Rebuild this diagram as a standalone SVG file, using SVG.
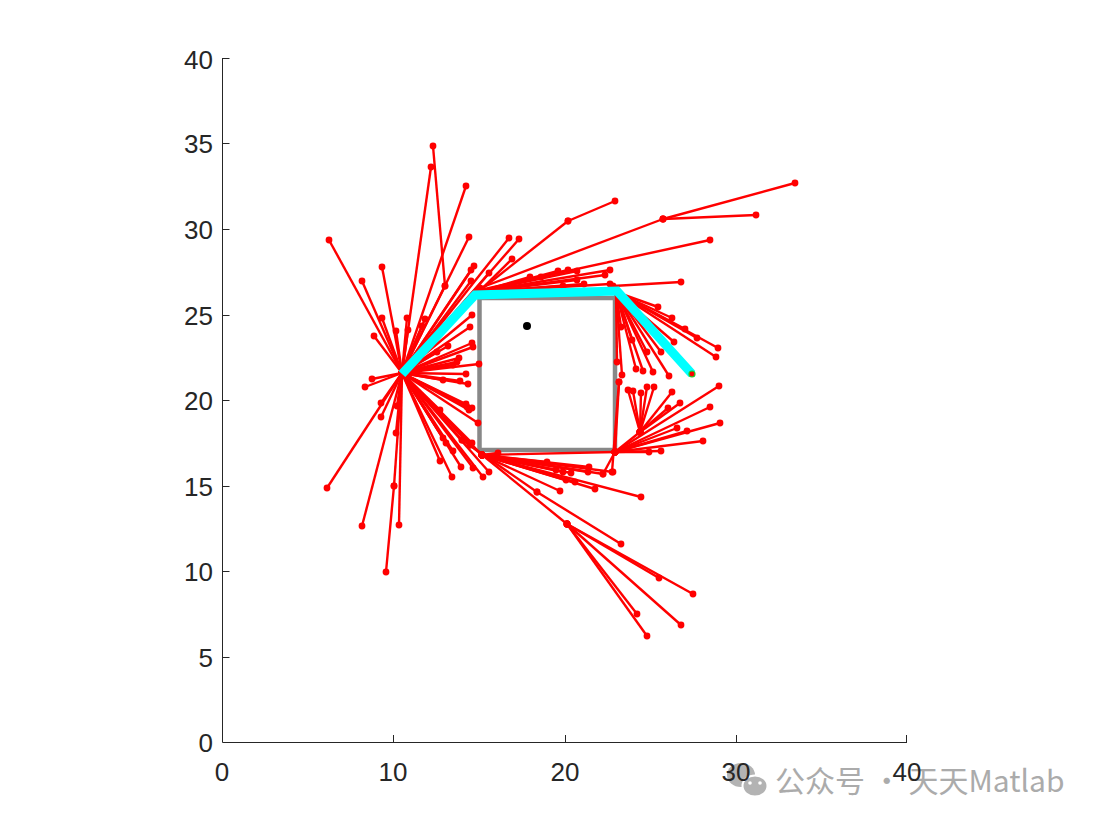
<svg xmlns="http://www.w3.org/2000/svg" width="1099" height="825" viewBox="0 0 1099 825">
<style>
.ax{stroke:#262626;stroke-width:1;fill:none}
.tl{font-family:"Liberation Sans",Arial,sans-serif;font-size:26px;fill:#262626}
.e{stroke:#ff0000;stroke-width:2.4;fill:none;marker-start:url(#dot);marker-end:url(#dot)}
.wm{font-family:"Noto Sans CJK SC","Noto Sans",sans-serif;font-size:30px;fill:#ababab}
</style>
<defs>
<marker id="dot" markerUnits="userSpaceOnUse" viewBox="0 0 8 8" refX="4" refY="4" markerWidth="8" markerHeight="8"><circle cx="4" cy="4" r="3.4" fill="#ff0000"/></marker>
</defs>
<rect width="1099" height="825" fill="#ffffff"/>

<g id="watermark">
<ellipse cx="741" cy="775" rx="14" ry="12" fill="#b3b3b3"/>
<ellipse cx="755" cy="786" rx="12.5" ry="10.5" fill="#b3b3b3" stroke="#ffffff" stroke-width="2"/>
<circle cx="750" cy="783" r="1.8" fill="#ffffff"/>
<circle cx="760" cy="783" r="1.8" fill="#ffffff"/>
<text class="wm" x="775" y="792">公众号 · 天天Matlab</text>
</g>

<g id="axes">
<path class="ax" d="M222.5 58V742.5H907"/>
<path class="ax" d="M222.5 58.5h7M222.5 143.5h7M222.5 229.5h7M222.5 315.5h7M222.5 400.5h7M222.5 486.5h7M222.5 571.5h7M222.5 657.5h7"/>
<path class="ax" d="M393.5 742v-7M565.5 742v-7M736.5 742v-7M906.5 742v-7"/>
<g text-anchor="end">
<text class="tl" x="213" y="69">40</text>
<text class="tl" x="213" y="153">35</text>
<text class="tl" x="213" y="239">30</text>
<text class="tl" x="213" y="325">25</text>
<text class="tl" x="213" y="410">20</text>
<text class="tl" x="213" y="496">15</text>
<text class="tl" x="213" y="581">10</text>
<text class="tl" x="213" y="667">5</text>
<text class="tl" x="213" y="752">0</text>
</g>
<g text-anchor="middle">
<text class="tl" x="222" y="781">0</text>
<text class="tl" x="393" y="781">10</text>
<text class="tl" x="565" y="781">20</text>
<text class="tl" x="736" y="781">30</text>
<text class="tl" x="907" y="781">40</text>
</g>
</g>

<g id="obstacle">
<rect x="479.5" y="298" width="135.5" height="152" fill="#ffffff" stroke="#888888" stroke-width="4.5"/>
</g>

<g id="tree">
<line class="e" x1="402" y1="373" x2="329" y2="240"/>
<line class="e" x1="402" y1="373" x2="362" y2="281"/>
<line class="e" x1="402" y1="373" x2="382" y2="267"/>
<line class="e" x1="402" y1="373" x2="374" y2="336"/>
<line class="e" x1="402" y1="373" x2="382" y2="318"/>
<line class="e" x1="402" y1="373" x2="396" y2="331"/>
<line class="e" x1="402" y1="373" x2="407" y2="318"/>
<line class="e" x1="402" y1="373" x2="408" y2="330"/>
<line class="e" x1="402" y1="373" x2="431" y2="167"/>
<line class="e" x1="402" y1="373" x2="445" y2="286"/>
<line class="e" x1="445" y1="286" x2="433" y2="146"/>
<line class="e" x1="402" y1="373" x2="466" y2="186"/>
<line class="e" x1="402" y1="373" x2="469" y2="237"/>
<line class="e" x1="402" y1="373" x2="422" y2="326"/>
<line class="e" x1="402" y1="373" x2="425" y2="319"/>
<line class="e" x1="402" y1="373" x2="474" y2="266"/>
<line class="e" x1="402" y1="373" x2="471" y2="270"/>
<line class="e" x1="402" y1="373" x2="471" y2="281"/>
<line class="e" x1="402" y1="373" x2="509" y2="238"/>
<line class="e" x1="402" y1="373" x2="519" y2="239"/>
<line class="e" x1="440" y1="330" x2="512" y2="259"/>
<line class="e" x1="402" y1="373" x2="489" y2="273"/>

<line class="e" x1="478" y1="292" x2="558" y2="271"/>
<line class="e" x1="478" y1="292" x2="568" y2="270"/>
<line class="e" x1="478" y1="292" x2="577" y2="271"/>
<line class="e" x1="478" y1="292" x2="610" y2="270"/>
<line class="e" x1="478" y1="292" x2="605" y2="275"/>
<line class="e" x1="478" y1="292" x2="577" y2="280"/>
<line class="e" x1="478" y1="292" x2="530" y2="277"/>
<line class="e" x1="478" y1="292" x2="563" y2="286"/>
<line class="e" x1="478" y1="292" x2="584" y2="284"/>
<line class="e" x1="478" y1="292" x2="610" y2="284"/>
<line class="e" x1="478" y1="292" x2="541" y2="277"/>
<line class="e" x1="478" y1="292" x2="568" y2="221"/>
<line class="e" x1="568" y1="221" x2="615" y2="201"/>
<line class="e" x1="480" y1="288" x2="663" y2="219"/>
<line class="e" x1="663" y1="219" x2="795" y2="183"/>
<line class="e" x1="663" y1="219" x2="756" y2="215"/>
<line class="e" x1="480" y1="290" x2="710" y2="240"/>
<line class="e" x1="613" y1="286" x2="681" y2="282"/>

<line class="e" x1="402" y1="373" x2="472" y2="315"/>
<line class="e" x1="402" y1="373" x2="470" y2="327"/>
<line class="e" x1="402" y1="373" x2="472" y2="343"/>
<line class="e" x1="402" y1="373" x2="473" y2="347"/>
<line class="e" x1="402" y1="373" x2="459" y2="358"/>
<line class="e" x1="402" y1="373" x2="453" y2="365"/>
<line class="e" x1="402" y1="373" x2="479" y2="364"/>
<line class="e" x1="402" y1="373" x2="466" y2="374"/>
<line class="e" x1="402" y1="373" x2="448" y2="346"/>
<line class="e" x1="402" y1="373" x2="443" y2="380"/>
<line class="e" x1="402" y1="373" x2="460" y2="381"/>
<line class="e" x1="402" y1="373" x2="468" y2="384"/>
<line class="e" x1="402" y1="373" x2="457" y2="362"/>
<line class="e" x1="402" y1="373" x2="437" y2="352"/>

<line class="e" x1="402" y1="373" x2="372" y2="379"/>
<line class="e" x1="402" y1="373" x2="365" y2="387"/>
<line class="e" x1="402" y1="373" x2="381" y2="403"/>
<line class="e" x1="402" y1="373" x2="381" y2="417"/>
<line class="e" x1="402" y1="373" x2="397" y2="406"/>
<line class="e" x1="402" y1="373" x2="396" y2="433"/>
<line class="e" x1="402" y1="373" x2="327" y2="488"/>
<line class="e" x1="402" y1="373" x2="362" y2="526"/>
<line class="e" x1="402" y1="373" x2="399" y2="525"/>
<line class="e" x1="402" y1="373" x2="394" y2="486"/>
<line class="e" x1="394" y1="486" x2="386" y2="572"/>

<line class="e" x1="402" y1="373" x2="440" y2="410"/>
<line class="e" x1="402" y1="373" x2="467" y2="407"/>
<line class="e" x1="402" y1="373" x2="469" y2="410"/>
<line class="e" x1="402" y1="373" x2="478" y2="423"/>
<line class="e" x1="402" y1="373" x2="472" y2="443"/>
<line class="e" x1="402" y1="373" x2="443" y2="438"/>
<line class="e" x1="402" y1="373" x2="440" y2="461"/>
<line class="e" x1="402" y1="373" x2="452" y2="477"/>
<line class="e" x1="402" y1="373" x2="461" y2="467"/>
<line class="e" x1="402" y1="373" x2="453" y2="451"/>
<line class="e" x1="402" y1="373" x2="446" y2="443"/>
<line class="e" x1="402" y1="373" x2="483" y2="477"/>
<line class="e" x1="402" y1="373" x2="489" y2="472"/>
<line class="e" x1="402" y1="373" x2="473" y2="468"/>
<line class="e" x1="402" y1="373" x2="466" y2="404"/>
<line class="e" x1="402" y1="373" x2="472" y2="408"/>
<line class="e" x1="402" y1="373" x2="482" y2="455"/>
<line class="e" x1="402" y1="373" x2="470" y2="445"/>
<line class="e" x1="402" y1="373" x2="462" y2="440"/>

<line class="e" x1="482" y1="455" x2="547" y2="462"/>
<line class="e" x1="482" y1="455" x2="563" y2="472"/>
<line class="e" x1="482" y1="455" x2="588" y2="472"/>
<line class="e" x1="482" y1="455" x2="603" y2="474"/>
<line class="e" x1="482" y1="455" x2="613" y2="472"/>
<line class="e" x1="482" y1="455" x2="589" y2="467"/>
<line class="e" x1="482" y1="455" x2="566" y2="480"/>
<line class="e" x1="482" y1="455" x2="575" y2="482"/>
<line class="e" x1="482" y1="455" x2="595" y2="489"/>
<line class="e" x1="482" y1="455" x2="641" y2="497"/>
<line class="e" x1="482" y1="455" x2="560" y2="491"/>
<line class="e" x1="482" y1="455" x2="498" y2="453"/>
<line class="e" x1="482" y1="455" x2="556" y2="470"/>
<line class="e" x1="482" y1="455" x2="571" y2="473"/>
<line class="e" x1="482" y1="455" x2="615" y2="452"/>
<line class="e" x1="462" y1="440" x2="537" y2="492"/>
<line class="e" x1="537" y1="492" x2="621" y2="544"/>
<line class="e" x1="470" y1="445" x2="567" y2="524"/>
<line class="e" x1="567" y1="524" x2="659" y2="578"/>
<line class="e" x1="567" y1="524" x2="693" y2="594"/>
<line class="e" x1="567" y1="524" x2="637" y2="614"/>
<line class="e" x1="567" y1="524" x2="647" y2="636"/>
<line class="e" x1="567" y1="524" x2="681" y2="625"/>

<line class="e" x1="616" y1="292" x2="658" y2="307"/>
<line class="e" x1="616" y1="292" x2="672" y2="318"/>
<line class="e" x1="616" y1="292" x2="685" y2="329"/>
<line class="e" x1="616" y1="292" x2="674" y2="342"/>
<line class="e" x1="616" y1="292" x2="718" y2="348"/>
<line class="e" x1="616" y1="292" x2="716" y2="357"/>
<line class="e" x1="616" y1="292" x2="697" y2="338"/>
<line class="e" x1="616" y1="292" x2="617" y2="362"/>
<line class="e" x1="616" y1="292" x2="622" y2="375"/>
<line class="e" x1="616" y1="292" x2="621" y2="327"/>
<line class="e" x1="616" y1="292" x2="632" y2="340"/>
<line class="e" x1="616" y1="292" x2="636" y2="369"/>
<line class="e" x1="616" y1="292" x2="643" y2="371"/>
<line class="e" x1="616" y1="292" x2="647" y2="352"/>
<line class="e" x1="616" y1="292" x2="653" y2="372"/>
<line class="e" x1="616" y1="292" x2="661" y2="352"/>
<line class="e" x1="616" y1="292" x2="669" y2="376"/>

<line class="e" x1="615" y1="452" x2="619" y2="382"/>
<line class="e" x1="619" y1="382" x2="612" y2="472"/>
<line class="e" x1="615" y1="452" x2="710" y2="407"/>
<line class="e" x1="615" y1="452" x2="719" y2="386"/>
<line class="e" x1="615" y1="452" x2="720" y2="423"/>
<line class="e" x1="615" y1="452" x2="703" y2="441"/>
<line class="e" x1="615" y1="452" x2="687" y2="431"/>
<line class="e" x1="615" y1="452" x2="661" y2="451"/>
<line class="e" x1="615" y1="452" x2="649" y2="452"/>
<line class="e" x1="615" y1="452" x2="677" y2="428"/>
<line class="e" x1="615" y1="452" x2="640" y2="432"/>
<line class="e" x1="640" y1="432" x2="628" y2="390"/>
<line class="e" x1="640" y1="432" x2="633" y2="391"/>
<line class="e" x1="640" y1="432" x2="641" y2="393"/>
<line class="e" x1="640" y1="432" x2="647" y2="387"/>
<line class="e" x1="640" y1="432" x2="654" y2="387"/>
<line class="e" x1="640" y1="432" x2="672" y2="392"/>
<line class="e" x1="640" y1="432" x2="680" y2="403"/>
<line class="e" x1="640" y1="432" x2="668" y2="408"/>
<line class="e" x1="615" y1="452" x2="603" y2="474"/>
</g>

<g id="path">
<polyline points="402,374 475,295 617,291 692,374" fill="none" stroke="#00ffff" stroke-width="9" stroke-linejoin="miter"/>
</g>
<g id="goal">
<circle cx="692" cy="374" r="3" fill="#ff0000" stroke="#22cc22" stroke-width="1.2"/>
</g>
<g id="center">
<circle cx="527" cy="326" r="4" fill="#000000"/>
</g>
</svg>
